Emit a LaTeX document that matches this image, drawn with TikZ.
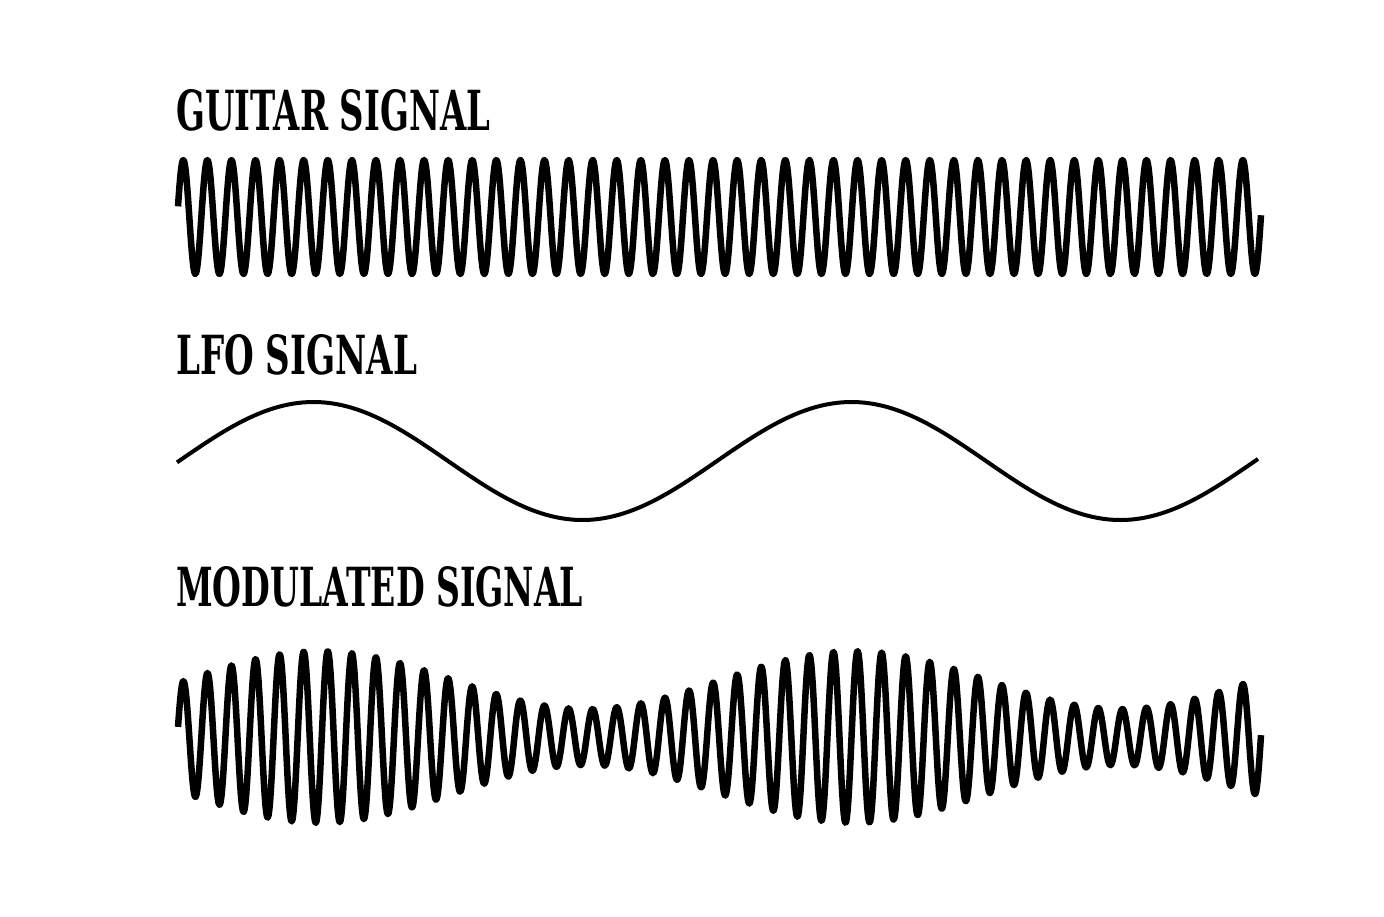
\documentclass[tikz,border=0pt]{standalone}
\usepackage{graphicx}
\usepackage{fontspec}
\setmainfont{DejaVu Serif}
\usepackage{tikz}

\begin{document}
\begin{tikzpicture}[x=1pt, y=-1pt,
    title/.style={anchor=south west, inner sep=0pt, font=\bfseries},
    carrier/.style={line width=6.5pt, line join=round},
    lfo/.style={line width=4pt, line join=round},
  ]
    \useasboundingbox (0,0) rectangle (1384,916);

    % guitar signal
    \node[title] (guitar) at (176,131) {\resizebox{314pt}{41pt}{GUITAR SIGNAL}};
    \draw[carrier] plot[domain=178:1261, samples=1400]
      (\x, {217 - 57*cos(mod(\x-183.3,24.08)/24.08*360)});

    % lfo signal
    \node[title] (lfo) at (176,375) {\resizebox{241pt}{40pt}{LFO SIGNAL}};
    \draw[lfo] plot[domain=177:1258, samples=300]
      (\x, {461 - 59*sin((\x-179)/538*360)});

    % modulated signal
    \node[title] (modulated) at (176,607) {\resizebox{407pt}{40pt}{MODULATED SIGNAL}};
    \draw[carrier] plot[domain=178:1261, samples=1400]
      (\x, {737 - (57 + 29*sin((\x-186.5)/534*360))*cos(mod(\x-183.3,24.08)/24.08*360)});
  \end{tikzpicture}
\end{document}
